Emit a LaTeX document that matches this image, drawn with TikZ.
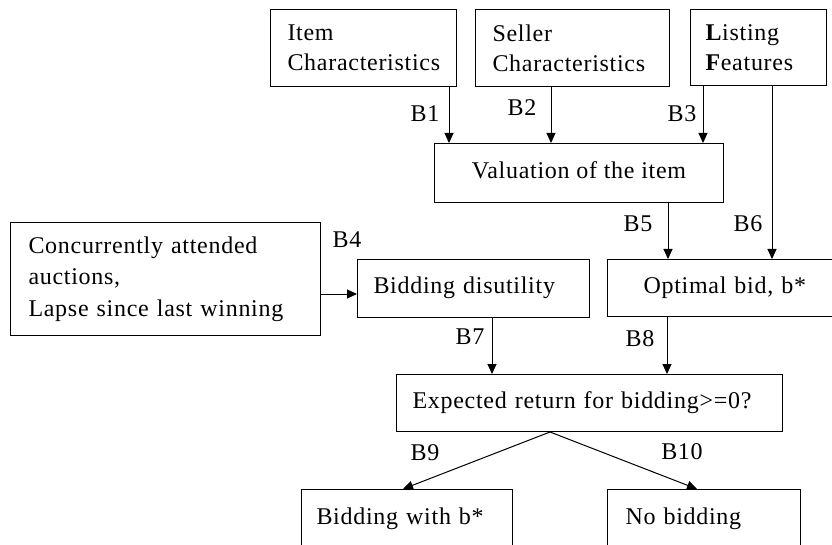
\documentclass[tikz,border=0pt]{standalone}
\usepackage{fontspec}
\setmainfont{Liberation Serif}[LetterSpace=3.0]
\usetikzlibrary{arrows.meta}
\hyphenpenalty=10000
\exhyphenpenalty=10000
\tikzset{
  every node/.style={font=\fontsize{24}{30}\selectfont},
  box/.style={draw, line width=1pt, inner ysep=0pt, anchor=north west},
  lbox/.style={box, align=left},
  cbox/.style={box, align=center},
  one/.style={text height=16pt, text depth=5pt},
  arr/.style={draw, line width=1pt, -{Triangle[length=10pt,width=9pt]}},
  lab/.style={inner sep=0pt}
}
\begin{document}
\begin{tikzpicture}[x=1pt,y=-1pt]
\useasboundingbox (0,0) rectangle (832,545);
\fill[white] (0,0) rectangle (832,545);
\clip (0,0) rectangle (832,545);
% top row
\node[lbox, inner xsep=17pt, text width=152pt, minimum height=77pt] (item) at (270,9) {Item\\Characteristics};
\node[lbox, inner xsep=17pt, text width=160pt, minimum height=77pt] (seller) at (475,9) {Seller\\Characteristics};
\node[lbox, inner xsep=15pt, text width=106pt, minimum height=76pt] (listing) at (690,9) {\textbf{L}isting\\\textbf{F}eatures};
% valuation
\node[cbox, one, inner xsep=0pt, minimum width=289pt, minimum height=59pt] (val) at (434,143) {Valuation of the item};
% middle row
\node[lbox, inner xsep=18pt, text width=274pt, minimum height=113pt, font=\fontsize{24}{31.5}\selectfont] (conc) at (10,222) {Concurrently attended\\auctions,\\Lapse since last winning};
\node[lbox, one, inner xsep=16pt, text width=200pt, minimum height=58pt] (disu) at (357,259) {Bidding disutility};
\node[lbox, one, inner xsep=36pt, text width=168pt, minimum height=57pt] (opt) at (607,259) {Optimal bid, b*};
% expected
\node[lbox, one, inner xsep=16pt, text width=354pt, minimum height=57pt] (exp) at (396,374) {Expected return for bidding>=0?};
% bottom row
\node[lbox, one, inner xsep=15pt, text width=181pt, minimum height=58pt] (bwith) at (301,489) {Bidding with b*};
\node[lbox, one, inner xsep=18pt, text width=157pt, minimum height=58pt] (nobid) at (607,489) {No bidding};
% arrows
\draw[arr] ([xshift=-8pt]item.south east) -- ([xshift=-8pt]item.south east |- val.north);
\draw[arr] ([xshift=76pt]seller.south west) -- ([xshift=76pt]seller.south west |- val.north);
\draw[arr] ([xshift=13pt]listing.south west) -- ([xshift=13pt]listing.south west |- val.north);
\draw[arr] ([xshift=82pt]listing.south west) -- ([xshift=82pt]listing.south west |- opt.north);
\draw[arr] ([xshift=-56pt]val.south east) -- ([xshift=-56pt]val.south east |- opt.north);
\draw[arr] ([yshift=-15pt]conc.east) -- ([yshift=-15pt]conc.east -| disu.west);
\draw[arr] ([xshift=135pt]disu.south west) -- ([xshift=135pt]disu.south west |- exp.north);
\draw[arr] ([xshift=60pt]opt.south west) -- ([xshift=60pt]opt.south west |- exp.north);
\coordinate (split) at ([xshift=154pt]exp.south west);
\draw[arr] (split) -- ([xshift=102pt]bwith.north west);
\draw[arr] (split) -- ([xshift=90pt]nobid.north west);
% labels
\node[lab] (b1) at (425,114) {B1};
\node[lab] (b2) at (522,108) {B2};
\node[lab] (b3) at (682,114) {B3};
\node[lab] (b4) at (347,240) {B4};
\node[lab] (b5) at (638,224) {B5};
\node[lab] (b6) at (748,224) {B6};
\node[lab] (b7) at (470,337) {B7};
\node[lab] (b8) at (640,339) {B8};
\node[lab] (b9) at (425,453) {B9};
\node[lab] (b10) at (682,452) {B10};
\end{tikzpicture}
\end{document}
